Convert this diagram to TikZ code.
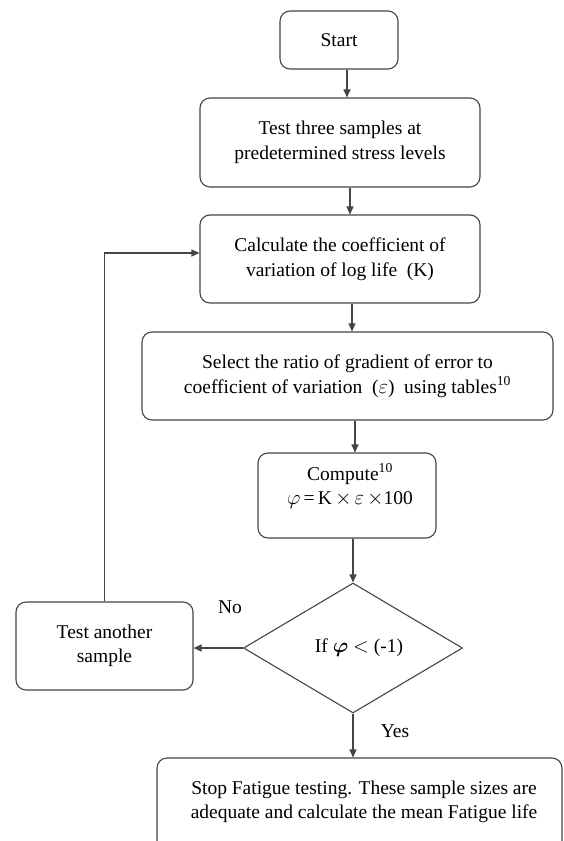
\documentclass[tikz,border=0pt]{standalone}
\usepackage{fontspec}
\setmainfont{Liberation Serif}
\usepackage{amsmath,bm}
\usetikzlibrary{shapes.geometric,arrows.meta,calc}
\definecolor{ln}{HTML}{454545}
\begin{document}
\begin{tikzpicture}[x=1pt,y=-1pt,
  box/.style={draw=ln,line width=1.1pt,rounded corners=10pt,inner sep=0pt,align=center,font=\fontsize{19.5}{24.5}\selectfont},
  dec/.style={draw=ln,line width=1.1pt,diamond,inner sep=0pt},
  txt/.style={inner sep=0pt,align=center,font=\fontsize{19.5}{24.5}\selectfont},
  arr/.style={draw=ln,line width=1.1pt,-{Triangle[length=8pt,width=7pt]}}]
\useasboundingbox (0,0) rectangle (564,841);
\clip (0,0) rectangle (564,841);
\fill[white] (0,0) rectangle (564,841);
\node[box,minimum width=118pt,minimum height=58pt] (start) at (339,40) {Start};
\node[box,minimum width=280pt,minimum height=89pt] (b2) at (340,142.5) {Test three samples at\\predetermined stress levels};
\node[box,minimum width=280pt,minimum height=88pt] (b3) at (340,259) {Calculate the coefficient of\\variation of log life\ \ (K)};
\node[box,minimum width=411pt,minimum height=88pt] (b4) at (347.5,376) {Select the ratio of gradient of error to\\coefficient of variation\ \ ($\varepsilon$)\ \ using tables\textsuperscript{10}};
\node[box,minimum width=178pt,minimum height=85pt] (b5) at (347,495.5) {};
\node[txt] (b5t) at (350,486) {Compute\textsuperscript{10}\\$\varphi$\,=\,K\,$\times$\,$\varepsilon$\,$\times$100};
\node[dec,minimum width=219pt,minimum height=130pt] (dia) at (353,648) {};
\node[txt] (diat) at (359,648) {If $\bm{\varphi}$ $<$ (-1)};
\node[box,minimum width=177pt,minimum height=88pt] (b6) at (104.5,646) {Test another\\sample};
\node[box,minimum width=405pt,minimum height=102pt] (b7) at (359.5,809) {};
\node[txt] (b7t) at (364,802) {Stop Fatigue testing. These sample sizes are\\adequate and calculate the mean Fatigue life};
\node[txt] (no) at (230,607) {No};
\node[txt] (yes) at (395,731) {Yes};
\draw[arr] ([xshift=8pt]start.south) -- ([xshift=8pt]start.south |- b2.north);
\draw[arr] ([xshift=10pt]b2.south) -- ([xshift=10pt]b2.south |- b3.north);
\draw[arr] ([xshift=12pt]b3.south) -- ([xshift=12pt]b3.south |- b4.north);
\draw[arr] ([xshift=7.5pt]b4.south) -- ([xshift=7.5pt]b4.south |- b5.north);
\draw[arr] ([xshift=6pt]b5.south) -- ([xshift=6pt]b5.south |- dia.north);
\draw[arr] (dia.south) -- (dia.south |- b7.north);
\draw[arr] (dia.west) -- (dia.west -| b6.east);
\draw[arr] (b6.north) |- ([yshift=6pt]b3.west);
\end{tikzpicture}
\end{document}
